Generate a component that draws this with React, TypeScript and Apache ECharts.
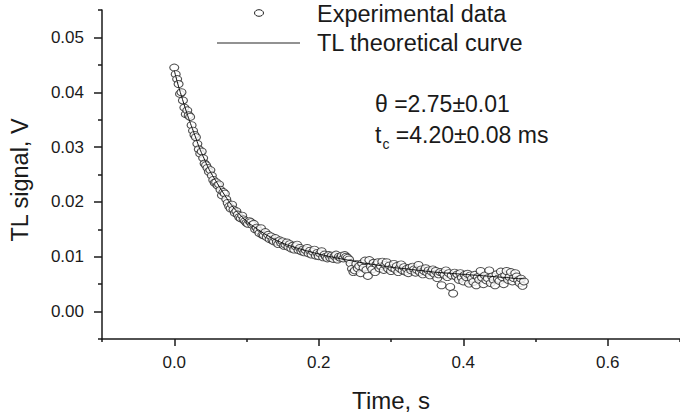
import React, { useEffect, useRef } from "react";
import * as echarts from "echarts";

// Sampling interval of the experimental trace (s)
const timeStep = 0.002;

// TL signal (V), experimental points, one every timeStep starting at t = 0
const experimental = [
  0.0445, 0.0433, 0.0424, 0.0415, 0.0397, 0.0400, 0.0385, 0.0372, 0.0360, 0.0367,
  0.0358, 0.0355, 0.0340, 0.0330, 0.0322, 0.0318, 0.0306, 0.0296, 0.0288, 0.0292,
  0.0280, 0.0270, 0.0267, 0.0262, 0.0255, 0.0258, 0.0248, 0.0240, 0.0235, 0.0236,
  0.0230, 0.0232, 0.0222, 0.0212, 0.0218, 0.0215, 0.0205, 0.0198, 0.0192, 0.0188,
  0.0195, 0.0186, 0.0180, 0.0183, 0.0177, 0.0172, 0.0170, 0.0175, 0.0168, 0.0165,
  0.0162, 0.0160, 0.0165, 0.0163, 0.0158, 0.0160, 0.0150, 0.0153, 0.0148, 0.0143,
  0.0152, 0.0140, 0.0139, 0.0145, 0.0136, 0.0140, 0.0132, 0.0137, 0.0130, 0.0128,
  0.0134, 0.0127, 0.0123, 0.0130, 0.0125, 0.0128, 0.0120, 0.0122, 0.0126, 0.0118,
  0.0123, 0.0115, 0.0120, 0.0113, 0.0119, 0.0122, 0.0112, 0.0116, 0.0110, 0.0113,
  0.0108, 0.0112, 0.0116, 0.0106, 0.0111, 0.0104, 0.0109, 0.0113, 0.0102, 0.0107,
  0.0101, 0.0106, 0.0110, 0.0099, 0.0104, 0.0100, 0.0097, 0.0103, 0.0098, 0.0102,
  0.0096, 0.0101, 0.0104, 0.0095, 0.0100, 0.0098, 0.0102, 0.0097, 0.0103, 0.0100,
  0.0098, 0.0095, 0.0088, 0.0078, 0.0072, 0.0075, 0.0087, 0.0079, 0.0083, 0.0070,
  0.0088, 0.0080, 0.0093, 0.0076, 0.0065, 0.0094, 0.0082, 0.0077, 0.0089, 0.0072,
  0.0086, 0.0090, 0.0079, 0.0083, 0.0091, 0.0076, 0.0085, 0.0090, 0.0078, 0.0084,
  0.0074, 0.0080, 0.0087, 0.0077, 0.0083, 0.0072, 0.0079, 0.0086, 0.0075, 0.0081,
  0.0073, 0.0078, 0.0070, 0.0080, 0.0075, 0.0082, 0.0077, 0.0071, 0.0076, 0.0085,
  0.0072, 0.0077, 0.0068, 0.0074, 0.0079, 0.0071, 0.0075, 0.0066, 0.0073, 0.0077,
  0.0069, 0.0074, 0.0061, 0.0068, 0.0072, 0.0048, 0.0070, 0.0067, 0.0075, 0.0063,
  0.0070, 0.0045, 0.0066, 0.0033, 0.0071, 0.0064, 0.0068, 0.0058, 0.0070, 0.0062,
  0.0055, 0.0067, 0.0063, 0.0069, 0.0051, 0.0066, 0.0060, 0.0054, 0.0067, 0.0048,
  0.0063, 0.0058, 0.0074, 0.0062, 0.0050, 0.0066, 0.0057, 0.0061, 0.0075, 0.0052,
  0.0064, 0.0058, 0.0048, 0.0068, 0.0060, 0.0056, 0.0073, 0.0063, 0.0050, 0.0066,
  0.0074, 0.0058, 0.0063, 0.0072, 0.0055, 0.0061, 0.0070, 0.0064, 0.0057, 0.0052,
  0.0060, 0.0047, 0.0055,
];

// TL theoretical curve (s, V)
const curveTime = [
  0, 0.005, 0.01, 0.015, 0.02, 0.025, 0.03, 0.035, 0.04, 0.045, 0.05, 0.06, 0.07,
  0.08, 0.09, 0.1, 0.11, 0.12, 0.13, 0.14, 0.15, 0.16, 0.18, 0.2, 0.22, 0.24, 0.26,
  0.28, 0.3, 0.32, 0.34, 0.36, 0.38, 0.4, 0.42, 0.44, 0.46, 0.48, 0.485,
];
const curveSignal = [
  0.044, 0.0415, 0.0393, 0.0372, 0.0352, 0.0334, 0.0316, 0.0298, 0.0283, 0.0268,
  0.0255, 0.0233, 0.0212, 0.0193, 0.0178, 0.0165, 0.0155, 0.0146, 0.0138, 0.0131,
  0.0125, 0.012, 0.0112, 0.0105, 0.0099, 0.0094, 0.0089, 0.0085, 0.0081, 0.0078,
  0.0075, 0.0072, 0.007, 0.0068, 0.0066, 0.0064, 0.0062, 0.006, 0.006,
];

// Axis ticks
const xMajorTicks = [0, 0.2, 0.4, 0.6];
const xMinorTicks = [-0.1, 0.1, 0.3, 0.5, 0.7];
const yMajorTicks = [0, 0.01, 0.02, 0.03, 0.04, 0.05];
const yMinorTicks = [-0.005, 0.005, 0.015, 0.025, 0.035, 0.045, 0.055];

// Legend and annotation texts
const seriesNames = ["Experimental data", "TL theoretical curve"];
const thetaText = "θ =2.75±0.01";
const tcText = " =4.20±0.08 ms";

const FONT = "Liberation Sans, Arial, Helvetica, sans-serif";
const INK = "#1a1a1a";

export default function App() {
  const ref = useRef<HTMLDivElement>(null);

  useEffect(() => {
    if (!ref.current) return;
    const chart = echarts.init(ref.current, null, { renderer: "svg" });

    const scatterData = experimental.map((v, i) => [
      Number((i * timeStep).toFixed(3)),
      v,
    ]);
    const lineData = curveTime.map((t, i) => [t, curveSignal[i]]);

    const lineAxis = { lineStyle: { color: INK, width: 1.5 } };

    chart.setOption({
      animation: false,
      backgroundColor: "#ffffff",
      textStyle: { fontFamily: FONT },
      grid: { left: 101, top: 10, width: 584, height: 331, containLabel: false },
      xAxis: [
        {
          type: "value",
          min: -0.1,
          max: 0.7,
          name: "Time, s",
          nameLocation: "middle",
          nameGap: 49,
          nameTextStyle: { fontSize: 24, color: INK, fontFamily: FONT },
          axisLine: { show: true, onZero: false, ...lineAxis },
          axisTick: {
            show: true,
            length: 7,
            customValues: xMajorTicks,
            lineStyle: { color: INK, width: 1.5 },
          },
          axisLabel: {
            customValues: xMajorTicks,
            fontSize: 17,
            color: INK,
            margin: 15,
            formatter: (v: number) => v.toFixed(1),
          },
          splitLine: { show: false },
        },
        {
          type: "value",
          min: -0.1,
          max: 0.7,
          position: "bottom",
          offset: 0,
          axisLine: { show: false, onZero: false },
          axisTick: {
            show: true,
            length: 3,
            customValues: xMinorTicks,
            lineStyle: { color: INK, width: 1.5 },
          },
          axisLabel: { show: false },
          splitLine: { show: false },
        },
      ],
      yAxis: [
        {
          type: "value",
          min: -0.005,
          max: 0.055,
          name: "TL signal, V",
          nameLocation: "middle",
          nameGap: 70,
          nameRotate: 90,
          nameTextStyle: {
            fontSize: 23.5,
            color: INK,
            fontFamily: FONT,
            padding: [0, 11, 0, 0],
          },
          axisLine: { show: true, onZero: false, ...lineAxis },
          axisTick: {
            show: true,
            length: 8,
            customValues: yMajorTicks,
            lineStyle: { color: INK, width: 1.5 },
          },
          axisLabel: {
            customValues: yMajorTicks,
            fontSize: 17,
            color: INK,
            margin: 18,
            formatter: (v: number) => v.toFixed(2),
          },
          splitLine: { show: false },
        },
        {
          type: "value",
          min: -0.005,
          max: 0.055,
          position: "left",
          offset: 0,
          axisLine: { show: false, onZero: false },
          axisTick: {
            show: true,
            length: 4,
            customValues: yMinorTicks,
            lineStyle: { color: INK, width: 1.5 },
          },
          axisLabel: { show: false },
          splitLine: { show: false },
        },
      ],
      graphic: [
        // legend
        {
          type: "ellipse",
          shape: { cx: 259, cy: 13, rx: 4.5, ry: 3.3 },
          style: { fill: "#ffffff", stroke: "#222222", lineWidth: 1 },
        },
        {
          type: "text",
          left: 317,
          top: 2,
          style: {
            text: seriesNames[0],
            font: `23.5px ${FONT}`,
            fill: INK,
          },
        },
        {
          type: "line",
          shape: { x1: 217, y1: 43, x2: 300, y2: 43 },
          style: { stroke: "#6e6e6e", lineWidth: 1.5 },
        },
        {
          type: "text",
          left: 317,
          top: 31,
          style: {
            text: seriesNames[1],
            font: `23.5px ${FONT}`,
            fill: INK,
          },
        },
        // annotations
        {
          type: "text",
          left: 375,
          top: 92,
          style: {
            text: thetaText,
            font: `23px ${FONT}`,
            fill: INK,
          },
        },
        {
          type: "text",
          left: 375,
          top: 123,
          style: {
            text: `{t|t}{s|c}{t|${tcText}}`,
            fill: INK,
            rich: {
              t: { fontSize: 23, fontFamily: FONT, fill: INK, verticalAlign: "top" },
              s: { fontSize: 14, fontFamily: FONT, fill: INK, padding: [14, 0, 0, 1] },
            },
          },
        },
      ],
      series: [
        {
          name: seriesNames[0],
          type: "scatter",
          xAxisIndex: 0,
          yAxisIndex: 0,
          data: scatterData,
          symbol: "circle",
          symbolSize: [9, 7],
          itemStyle: { color: "#ffffff", borderColor: "#222222", borderWidth: 1 },
          z: 2,
        },
        {
          name: seriesNames[1],
          type: "line",
          xAxisIndex: 0,
          yAxisIndex: 0,
          data: lineData,
          symbol: "none",
          smooth: true,
          lineStyle: { color: "#111111", width: 1 },
          z: 3,
        },
      ],
    });

    return () => chart.dispose();
  }, []);

  return (
    <div
      ref={ref}
      style={{ position: "fixed", left: 0, top: 0, width: 680, height: 417, background: "#fff" }}
    />
  );
}
